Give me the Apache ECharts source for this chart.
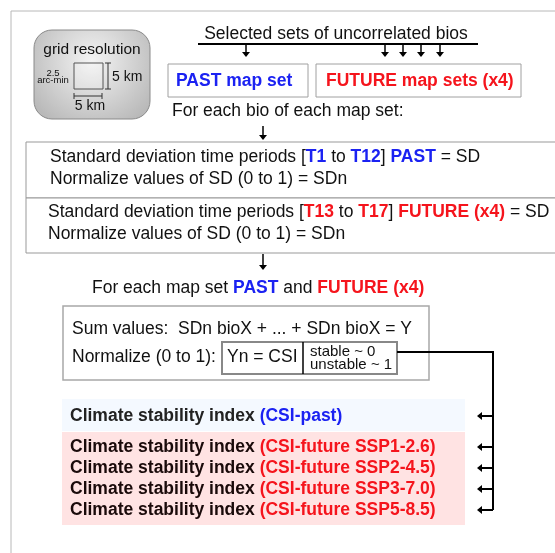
<!DOCTYPE html>
<html>
<head>
<meta charset="utf-8">
<script src="https://cdn.jsdelivr.net/npm/echarts@6/dist/echarts.min.js"></script>
<style>
  html, body { margin: 0; padding: 0; background: #fff; }
  #main { width: 555px; height: 553px; }
</style>
</head>
<body>
<div id="main"></div>
<script>
// texts of the flow diagram
const headerText = 'Selected sets of uncorrelated bios';
const mapSets = ['PAST map set', 'FUTURE map sets (x4)'];
const forEachBio = 'For each bio of each map set:';
const sdPast = ['Standard deviation time periods [{b|T1} to {b|T12}] {b|PAST} = SD', 'Normalize values of SD (0 to 1) = SDn'];
const sdFuture = ['Standard deviation time periods [{r|T13} to {r|T17}] {r|FUTURE (x4)} = SD', 'Normalize values of SD (0 to 1) = SDn'];
const forEachMap = 'For each map set {b|PAST} and {r|FUTURE (x4)}';
const sumLines = ['Sum values:  SDn bioX + ... + SDn bioX = Y', 'Normalize (0 to 1):'];
const csiCell = ['Yn = CSI', 'stable ~ 0', 'unstable ~ 1'];
const csiPast = ['(CSI-past)'];
const csiFuture = ['(CSI-future SSP1-2.6)', '(CSI-future SSP2-4.5)', '(CSI-future SSP3-7.0)', '(CSI-future SSP5-8.5)'];
const gridLabels = ['grid resolution', '2.5', 'arc-min', '5 km', '5 km'];

const BLUE = '#1b22f2';
const RED = '#f5141c';
const FONT = 'Liberation Sans, Arial, sans-serif';
const FS = 17.5;
const rich = {
  b: { fill: BLUE, fontWeight: 'bold', fontSize: FS, fontFamily: FONT },
  r: { fill: RED, fontWeight: 'bold', fontSize: FS, fontFamily: FONT }
};

const els = [];
function txt(x, y, s, o) {
  o = o || {};
  els.push({
    type: 'text', x: x, y: y, z: 10,
    style: {
      text: s, fill: o.fill || '#111', fontSize: o.size || FS,
      fontWeight: o.bold ? 'bold' : 'normal', fontFamily: FONT,
      align: o.align || 'left', verticalAlign: 'middle', rich: rich
    }
  });
}
function box(x, y, w, h, stroke, fill, lw, z) {
  els.push({
    type: 'rect', z: z || 1,
    shape: { x: x, y: y, width: w, height: h },
    style: { fill: fill || 'none', stroke: stroke || 'none', lineWidth: lw || 1 }
  });
}
function line(pts, lw, color) {
  els.push({ type: 'polyline', z: 5, shape: { points: pts }, style: { stroke: color || '#000', lineWidth: lw || 1.5, fill: 'none' } });
}
function arrowDown(x, y1, y2) {
  line([[x, y1], [x, y2 - 3]], 1.5);
  els.push({ type: 'polygon', z: 5, shape: { points: [[x - 4, y2 - 5], [x + 4, y2 - 5], [x, y2]] }, style: { fill: '#000' } });
}
function arrowLeft(x1, x2, y) {
  line([[x1, y], [x2 + 3, y]], 2);
  els.push({ type: 'polygon', z: 5, shape: { points: [[x2 + 5, y - 4], [x2 + 5, y + 4], [x2, y]] }, style: { fill: '#000' } });
}
function dbl(pts) {
  line(pts, 1, '#333');
}

// outer frame
line([[11, 553], [11, 11], [555, 11]], 1, '#b8b8b8');

// grid resolution badge
els.push({
  type: 'rect', z: 1,
  shape: { x: 34, y: 30, width: 116, height: 89, r: 18 },
  style: {
    stroke: '#8a8a8a', lineWidth: 1,
    fill: new echarts.graphic.RadialGradient(0.5, 0.35, 0.8, [
      { offset: 0, color: '#f4f4f4' }, { offset: 1, color: '#b9b9b9' }
    ])
  }
});
txt(92, 50, gridLabels[0], { align: 'center', size: 15.5 });
box(74, 63, 29, 26, '#555', 'rgba(255,255,255,0.15)', 1, 3);
txt(53, 73, gridLabels[1], { align: 'center', size: 9.5 });
txt(53, 80, gridLabels[2], { align: 'center', size: 9.5 });
dbl([[108, 63], [108, 89]]); dbl([[105, 63], [111, 63]]); dbl([[105, 89], [111, 89]]);
txt(112, 77, gridLabels[3], { size: 14 });
dbl([[74, 96], [102, 96]]); dbl([[74, 93], [74, 99]]); dbl([[102, 93], [102, 99]]);
txt(90, 106, gridLabels[4], { align: 'center', size: 14 });

// header & map set boxes
txt(336, 34, headerText, { align: 'center' });
line([[198, 44], [478, 44]], 2);
[246, 385, 403, 421, 440].forEach(function (x) { arrowDown(x, 44, 57); });
box(168, 64, 140, 33, '#a0a0a0', '#fff', 1);
box(316, 64, 205, 33, '#a0a0a0', '#fff', 1);
txt(176, 81, mapSets[0], { fill: BLUE, bold: true });
txt(326, 81, mapSets[1], { fill: RED, bold: true });
txt(172, 111, forEachBio);
arrowDown(263, 126, 140);

// SD boxes
box(26, 142, 540, 56, '#999', '#fff', 1);
box(26, 198, 540, 55, '#999', '#fff', 1);
txt(50, 157, sdPast[0]);
txt(50, 179, sdPast[1]);
txt(48, 212, sdFuture[0]);
txt(48, 234, sdFuture[1]);
arrowDown(263, 254, 270);

// sum / normalize box
txt(92, 288, forEachMap);
box(63, 306, 366, 74, '#a8a8a8', '#fff', 1.5);
txt(72, 329, sumLines[0]);
txt(72, 357, sumLines[1]);
box(222, 342, 175, 32, '#888', '#fff', 2, 2);
line([[303, 342], [303, 374]], 1.5);
txt(227, 357, csiCell[0]);
txt(310, 352, csiCell[1], { size: 15 });
txt(310, 365, csiCell[2], { size: 15 });
line([[397, 352], [493, 352], [493, 510]], 2);

// outputs
box(62, 399, 403, 32, null, '#f4f9ff', 1, 0);
box(62, 432, 403, 93, null, '#ffe3e3', 1, 0);
const rowsY = [416, 447, 468, 489, 510];
const labels = csiPast.map(function (s) { return { s: s, c: 'b' }; })
  .concat(csiFuture.map(function (s) { return { s: s, c: 'r' }; }));
labels.forEach(function (l, i) {
  txt(70, rowsY[i], 'Climate stability index {' + l.c + '|' + l.s + '}', { bold: true, fill: i === 0 ? '#222' : '#1a0a0a' });
  arrowLeft(493, 477, rowsY[i]);
});

const chart = echarts.init(document.getElementById('main'), null, { renderer: 'canvas' });
chart.setOption({ animation: false, graphic: { elements: els } });
</script>
</body>
</html>
